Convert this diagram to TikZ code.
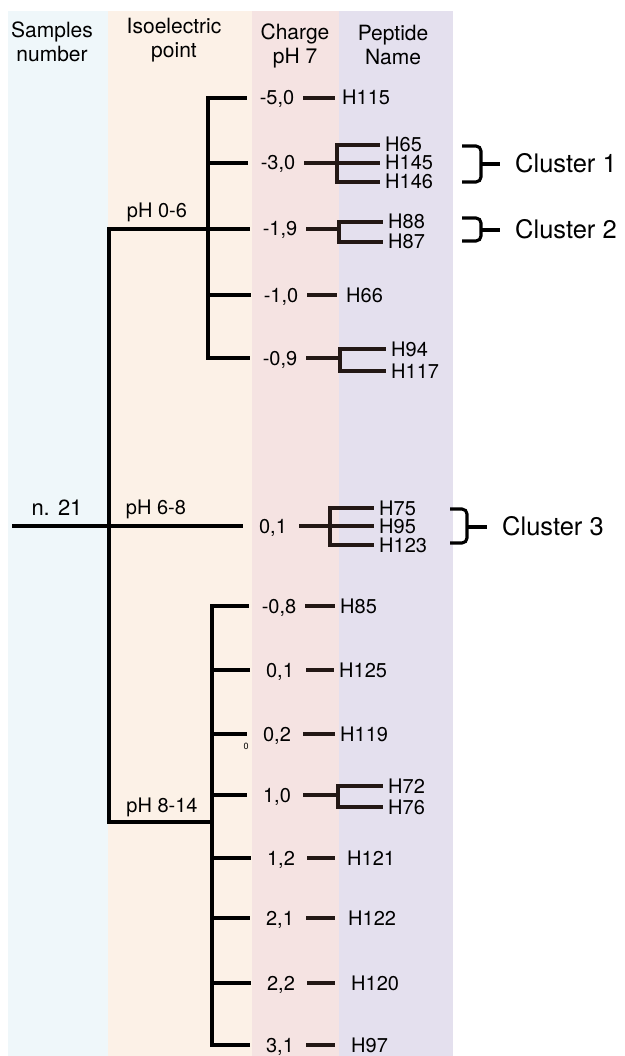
\documentclass[tikz,border=0pt]{standalone}
\usepackage{fontspec}
\setmainfont{TeX Gyre Heros}
\usetikzlibrary{calc}
\definecolor{bandblue}{HTML}{EFF7FA}
\definecolor{bandpeach}{HTML}{FCF1E7}
\definecolor{bandpink}{HTML}{F5E3E2}
\definecolor{bandlav}{HTML}{E4E0EE}
\definecolor{tickbrown}{HTML}{231815}

\begin{document}
\begin{tikzpicture}[x=1pt,y=-1pt,
  tree/.style={line width=3.5pt},
  tick/.style={line width=3.8pt,draw=tickbrown},
  brk/.style={line width=3.2pt,draw=tickbrown,shorten >=5pt},
  brace/.style={line width=3.1pt,rounded corners=5pt},
  chg/.style={minimum width=52pt,inner sep=0pt,text height=14pt,text depth=0pt,font=\fontsize{20}{23}\selectfont},
  pep/.style={anchor=west,inner sep=0pt,text height=14pt,text depth=0pt,font=\fontsize{20}{23}\selectfont},
  grp/.style={inner sep=0pt,text height=14pt,text depth=0pt,font=\fontsize{20}{23}\selectfont},
  head/.style={align=center,font=\fontsize{21}{24.5}\selectfont},
  clus/.style={anchor=west,inner sep=0pt,text height=17pt,text depth=0pt,font=\fontsize{25.5}{28}\selectfont}]
\useasboundingbox (0,0) rectangle (624,1056);
% column bands
\fill[bandblue] (8,11) rectangle (108,1056);
\fill[bandpeach] (108,11) rectangle (252,1056);
\fill[bandpink] (252,11) rectangle (339,1056);
\fill[bandlav] (339,11) rectangle (453,1056);

% headers
\node[head] (hs) at (52,42) {Samples\\number};
\node[head] (hi) at (174,40) {Isoelectric\\point};
\node[head] (hc) at (295,46) {Charge\\pH 7};
\node[head] (hp) at (393,45) {Peptide\\Name};

% samples and pH groups
\node[grp,font=\fontsize{22}{25}\selectfont] (n21) at (57,508) {n. 21};
\node[grp] (g1) at (157,211) {pH 0-6};
\node[grp] (g2) at (156,507) {pH 6-8};
\node[grp] (g3) at (162,805) {pH 8-14};
\node[font=\fontsize{9}{10}\selectfont,inner sep=0pt] (z) at (246,746) {0};

% charge at pH 7
\node[chg] (c1) at (277,98) {-5,0};
\node[chg] (c2) at (278,163) {-3,0};
\node[chg] (c3) at (280,229) {-1,9};
\node[chg] (c4) at (281,295) {-1,0};
\node[chg] (c5) at (280,358) {-0,9};
\node[chg] (c6) at (273,526) {0,1};
\node[chg] (c7) at (279,606) {-0,8};
\node[chg] (c8) at (280,670) {0,1};
\node[chg] (c9) at (277,734) {0,2};
\node[chg] (c10) at (277,795) {1,0};
\node[chg] (c11) at (281,858) {1,2};
\node[chg] (c12) at (280,918) {2,1};
\node[chg] (c13) at (281,983) {2,2};
\node[chg] (c14) at (280,1045) {3,1};

% peptides
\node[pep] (h115) at (342,98) {H115};
\node[pep] (h65) at (385,145) {H65};
\node[pep] (h145) at (385,163) {H145};
\node[pep] (h146) at (385,182) {H146};
\node[pep] (h88) at (388,222) {H88};
\node[pep] (h87) at (388,242) {H87};
\node[pep] (h66) at (346,295) {H66};
\node[pep] (h94) at (391,349) {H94};
\node[pep] (h117) at (391,371) {H117};
\node[pep] (h75) at (379,508) {H75};
\node[pep] (h95) at (379,526) {H95};
\node[pep] (h123) at (379,545) {H123};
\node[pep] (h85) at (340,606) {H85};
\node[pep] (h125) at (339,670) {H125};
\node[pep] (h119) at (340,734) {H119};
\node[pep] (h72) at (388,786) {H72};
\node[pep] (h76) at (388,807) {H76};
\node[pep] (h121) at (347,858) {H121};
\node[pep] (h122) at (348,918) {H122};
\node[pep] (h120) at (351,983) {H120};
\node[pep] (h97) at (351,1045) {H97};

% clusters
\node[clus] (cl1) at (515,164) {Cluster 1};
\node[clus] (cl2) at (515,230) {Cluster 2};
\node[clus] (cl3) at (502,527) {Cluster 3};

% tree joints
\coordinate (root) at (12,526);
\coordinate (j1) at (109,229);
\coordinate (j3) at (109,822);
\coordinate (s1) at (208,229);
\coordinate (s3) at (212,822);
\coordinate (b2) at (337,163);
\coordinate (b3) at (339,229);
\coordinate (b5) at (340,358);
\coordinate (b6) at (330,526);
\coordinate (b10) at (338,795);

% dendrogram
\draw[tree,shorten <=4pt] (c3) -- (j1) -- (j3) -- (s3);
\draw[tree,shorten >=4pt] (root) -- (c6);
\draw[tree,shorten <=4pt,shorten >=4pt] (c1) -| (s1) |- (c5);
\draw[tree,shorten <=4pt,shorten >=4pt] (c7) -| (s3) |- (c14);
\draw[tree,shorten >=4pt]
(s1 |- c2) edge (c2)
(s1 |- c4) edge (c4)
(s3 |- c8) edge (c8)
(s3 |- c9) edge (c9)
(s3 |- c10) edge (c10)
(s3 |- c11) edge (c11)
(s3 |- c12) edge (c12)
(s3 |- c13) edge (c13);

% charge to peptide
\draw[tick]
(c1) edge[shorten >=7pt] (h115)
(c2) edge (b2)
(c3) edge (b3)
(c4) edge[shorten >=9pt] (h66)
(c5) edge (b5)
(c6) edge (b6)
(c7) edge[shorten >=5pt] (h85)
(c8) edge[shorten >=5pt] (h125)
(c9) edge[shorten >=5pt] (h119)
(c10) edge (b10)
(c11) edge[shorten >=12pt] (h121)
(c12) edge[shorten >=13pt] (h122)
(c13) edge[shorten >=16pt] (h120)
(c14) edge[shorten >=16pt] (h97);
\draw[brk] (b2) |- (h65);
\draw[brk] (b2) |- (h145);
\draw[brk] (b2) |- (h146);
\draw[brk] (b3) |- (h88);
\draw[brk] (b3) |- (h87);
\draw[brk] (b5) |- (h94);
\draw[brk] (b5) |- (h117);
\draw[brk] (b6) |- (h75);
\draw[brk] (b6) |- (h95);
\draw[brk] (b6) |- (h123);
\draw[brk] (b10) |- (h72);
\draw[brk] (b10) |- (h76);

% cluster braces
\coordinate (k1a) at (462,146);
\coordinate (k1m) at (481,164);
\coordinate (k1b) at (462,182);
\coordinate (k2a) at (462,218);
\coordinate (k2m) at (481,230);
\coordinate (k2b) at (462,241);
\coordinate (k3a) at (450,509);
\coordinate (k3m) at (467,527);
\coordinate (k3b) at (450,543);
\draw[brace] (k1a) -| (k1m) |- (k1b);
\draw[brace] (k2a) -| (k2m) |- (k2b);
\draw[brace] (k3a) -| (k3m) |- (k3b);
\draw[brace,shorten >=15pt] (k1m) -- (cl1);
\draw[brace,shorten >=15pt] (k2m) -- (cl2);
\draw[brace,shorten >=15pt] (k3m) -- (cl3);
\end{tikzpicture}
\end{document}
